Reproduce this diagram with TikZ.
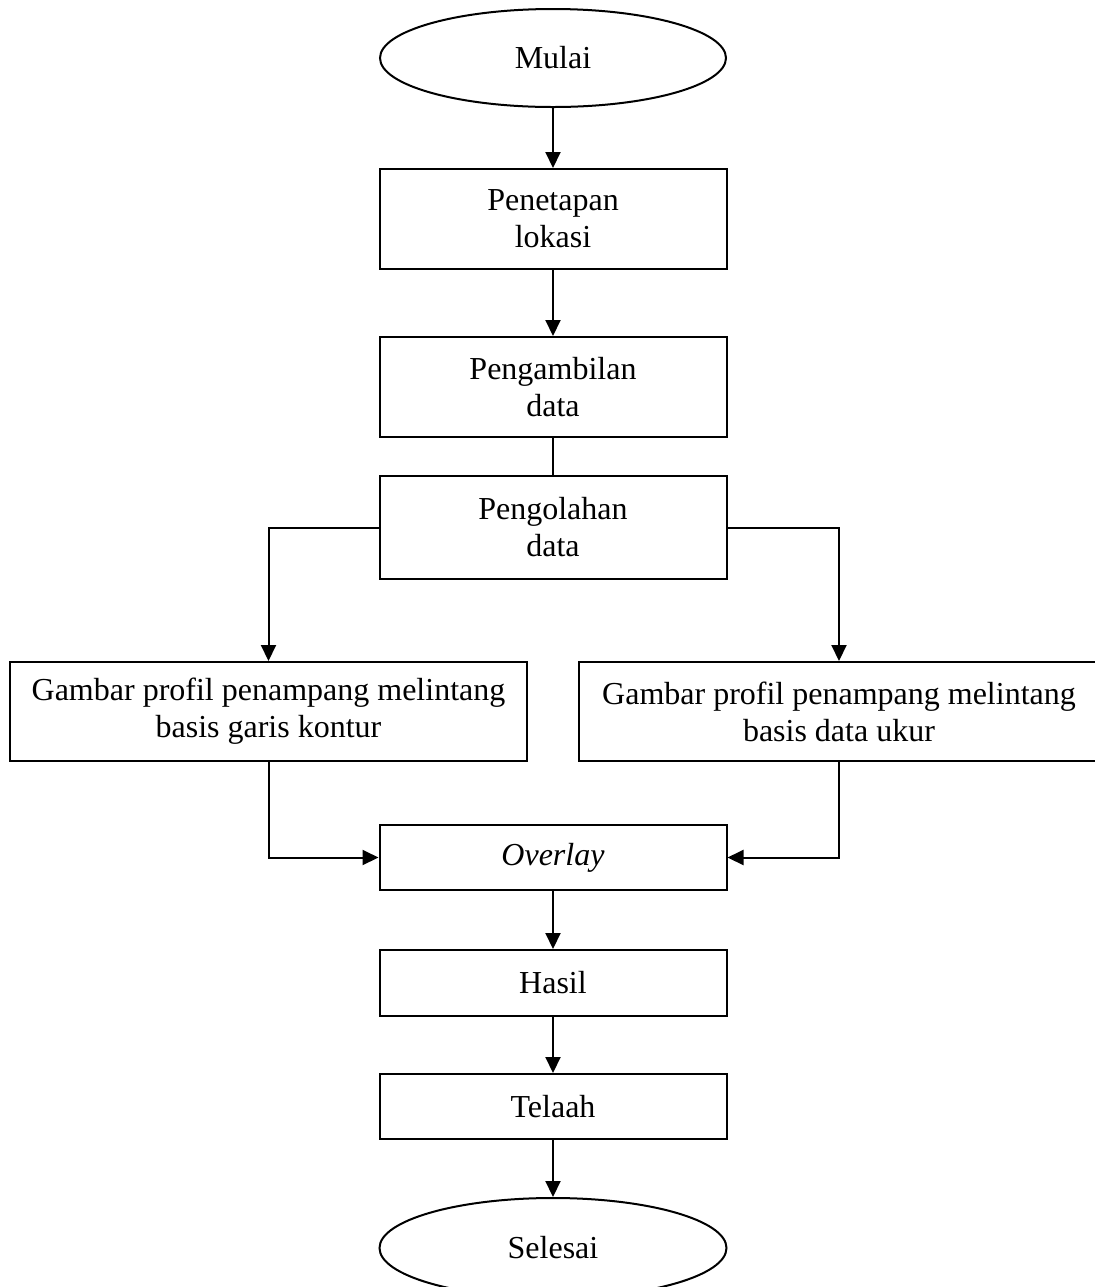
\documentclass[tikz,border=0pt]{standalone}
\usepackage{fontspec}
\setmainfont{Liberation Serif}
\usepackage{tikz}
\usetikzlibrary{arrows.meta, positioning, shapes.geometric}

\begin{document}
\begin{tikzpicture}[
    font=\fontsize{16}{18.5}\selectfont,
    box/.style={rectangle, draw, line width=1pt, minimum width=173.5pt, minimum height=50pt, align=center, inner sep=2pt},
    wide/.style={box, minimum width=258.5pt, minimum height=49.5pt},
    term/.style={ellipse, draw, line width=1pt, minimum width=173pt, minimum height=49pt, inner sep=0pt},
    arrow/.style={-{Triangle[length=8pt, width=7.5pt]}, line width=1pt}
]
\useasboundingbox (0,0) rectangle (547pt,-643.5pt);

\node[term] (mulai) at (276.5pt,-29pt) {Mulai};
\node[box, below=30pt of mulai] (tetap) {Penetapan\\lokasi};
\node[box, below=33pt of tetap] (ambil) {Pengambilan\\data};
\node[box, below=18.5pt of ambil, minimum height=51.5pt] (olah) {Pengolahan\\data};
\node[wide] (kiri) at (134.25pt,-355.75pt) {Gambar profil penampang melintang\\basis garis kontur};
\node[wide, minimum width=260pt] (kanan) at (419.5pt,-355.75pt) {Gambar profil penampang melintang\\basis data ukur};
\coordinate (pusat) at (olah.south |- kiri.south);
\node[box, below=31pt of pusat, minimum height=32.5pt] (overlay) {\textit{Overlay}};
\node[box, below=29pt of overlay, minimum height=33pt] (hasil) {Hasil};
\node[box, below=28pt of hasil, minimum height=32.5pt] (telaah) {Telaah};
\node[term, below=28.5pt of telaah, minimum width=173.5pt, minimum height=50pt] (selesai) {Selesai};

\draw[arrow] (mulai) -- (tetap);
\draw[arrow] (tetap) -- (ambil);
\draw[line width=1pt] (ambil) -- (olah);
\draw[arrow] (olah.west) -| (kiri.north);
\draw[arrow] (olah.east) -| (kanan.north);
\draw[arrow] (kiri.south) |- (overlay.west);
\draw[arrow] (kanan.south) |- (overlay.east);
\draw[arrow] (overlay) -- (hasil);
\draw[arrow] (hasil) -- (telaah);
\draw[arrow] (telaah) -- (selesai);
\end{tikzpicture}
\end{document}
